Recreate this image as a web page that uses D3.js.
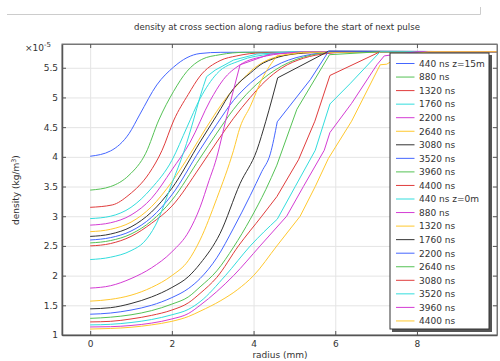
<!DOCTYPE html>
<html>
<head>
<meta charset="utf-8">
<script src="https://cdn.jsdelivr.net/npm/d3@7"></script>
<style>
  body { margin: 0; background: #fff; }
  text { font-family: "DejaVu Sans", sans-serif; fill: #333; }
</style>
</head>
<body>
<svg id="chart"></svg>
<script>
// radius (mm), density (x1e-5 kg/m^3)
const labels = ["440 ns z=15m", "880 ns", "1320 ns", "1760 ns", "2200 ns", "2640 ns", "3080 ns",
  "3520 ns", "3960 ns", "4400 ns", "440 ns z=0m", "880 ns", "1320 ns", "1760 ns", "2200 ns",
  "2640 ns", "3080 ns", "3520 ns", "3960 ns", "4400 ns"];

const xTicks = [0, 2, 4, 6, 8];
const yTicks = [1, 1.5, 2, 2.5, 3, 3.5, 4, 4.5, 5, 5.5];

// z = 15 m
const c01 = [[0,4.01],[0.5,4.1],[0.95,4.39],[1.22,4.72],[1.63,5.21],[2.04,5.51],[2.37,5.67],[2.69,5.74],[3.2,5.76],[9.96,5.77]];
const c02 = [[0,3.44],[0.5,3.5],[0.95,3.69],[1.36,4.06],[1.68,4.62],[2.04,5.1],[2.37,5.44],[2.73,5.64],[3.18,5.72],[3.8,5.76],[9.96,5.77]];
const c03 = [[0,3.15],[0.54,3.19],[0.95,3.36],[1.44,3.72],[1.76,4.11],[2.05,4.62],[2.4,5.05],[2.69,5.36],[3.18,5.62],[3.59,5.7],[4.2,5.75],[9.96,5.77]];
const c04 = [[0,2.96],[0.5,3.0],[1.0,3.15],[1.5,3.47],[2.0,3.94],[2.37,4.5],[2.69,4.98],[3.1,5.4],[3.67,5.62],[4.41,5.73],[5.0,5.76],[9.96,5.77]];
const c05 = [[0,2.85],[0.5,2.89],[1.0,3.02],[1.5,3.3],[2.0,3.78],[2.45,4.25],[2.94,4.95],[3.26,5.3],[3.67,5.55],[4.32,5.7],[5.0,5.75],[9.96,5.77]];
const c06 = [[0,2.74],[0.5,2.78],[1.0,2.9],[1.5,3.16],[2.0,3.58],[2.45,4.05],[2.85,4.5],[3.34,5.0],[3.67,5.26],[3.99,5.48],[4.41,5.65],[5.0,5.73],[5.6,5.76],[9.96,5.77]];
const c07 = [[0,2.66],[0.5,2.7],[1.0,2.82],[1.5,3.07],[2.0,3.47],[2.69,4.25],[3.1,4.7],[3.51,5.15],[3.92,5.41],[4.24,5.58],[5.22,5.75],[6,5.77],[9.96,5.77]];
const c08 = [[0,2.6],[0.5,2.64],[1.0,2.75],[1.5,2.98],[2.0,3.36],[2.69,4.12],[3.1,4.55],[3.51,4.95],[3.92,5.24],[4.5,5.52],[5.22,5.7],[6,5.76],[9.96,5.77]];
const c09 = [[0,2.55],[0.5,2.59],[1.0,2.7],[1.5,2.92],[2.0,3.27],[2.69,3.98],[3.1,4.4],[3.51,4.8],[3.92,5.12],[4.5,5.45],[5.22,5.68],[6,5.76],[9.96,5.77]];
const c10 = [[0,2.5],[0.5,2.54],[1.0,2.66],[1.5,2.88],[2.0,3.17],[2.69,3.83],[3.1,4.25],[3.51,4.65],[3.92,5.0],[4.28,5.27],[4.7,5.5],[5.22,5.66],[5.8,5.74],[6.5,5.77],[9.96,5.77]];
// z = 0 m
const c11 = [[0,2.27],[0.5,2.31],[1.0,2.42],[1.31,2.56],[1.6,2.85],[2.0,3.55],[2.3,4.1],[2.53,4.62],[2.69,5.01],[2.85,5.35],[3.06,5.46],[3.51,5.63],[4.08,5.73],[5,5.77],[9.96,5.77]];
const c12 = [[0,1.79],[0.5,1.83],[1.0,1.95],[1.5,2.13],[2.0,2.4],[2.42,2.75],[2.69,3.15],[2.91,3.6],[3.06,3.9],[3.35,4.7],[3.67,5.55],[4.41,5.73],[5.2,5.77],[9.96,5.77]];
const c13 = [[0,1.57],[0.5,1.6],[1.0,1.67],[1.5,1.8],[2.0,2.0],[2.4,2.25],[2.69,2.6],[3.1,3.3],[3.51,4.11],[3.67,4.5],[3.92,4.85],[4.2,5.3],[4.57,5.7],[5.2,5.76],[9.96,5.77]];
const c14 = [[0,1.44],[0.5,1.46],[1.0,1.53],[1.5,1.64],[2.0,1.8],[2.4,1.98],[2.69,2.2],[3.18,2.71],[3.67,3.55],[4.08,4.11],[4.3,4.6],[4.59,5.33],[5.84,5.78],[9.96,5.77]];
const c15 = [[0,1.35],[0.5,1.37],[1.0,1.42],[1.5,1.5],[2.0,1.63],[2.4,1.78],[2.69,1.95],[3.1,2.3],[3.51,2.8],[3.92,3.35],[4.2,3.75],[4.41,4.05],[4.58,4.59],[5.39,5.3],[5.84,5.78],[9.96,5.77]];
const c16 = [[0,1.28],[0.5,1.3],[1.0,1.34],[1.5,1.41],[2.0,1.52],[2.4,1.64],[2.69,1.81],[3.1,2.08],[3.51,2.48],[3.92,2.95],[4.3,3.45],[4.57,3.86],[5.06,4.8],[5.86,5.72],[7.1,5.77],[9.96,5.77]];
const c17 = [[0,1.22],[0.5,1.23],[1.0,1.27],[1.5,1.33],[2.0,1.42],[2.4,1.54],[2.69,1.7],[3.1,1.97],[3.63,2.5],[4.2,3.0],[4.57,3.33],[5.1,3.95],[5.5,4.6],[5.87,5.37],[7.1,5.77],[9.96,5.77]];
const c18 = [[0,1.17],[0.5,1.18],[1.0,1.21],[1.5,1.26],[2.0,1.34],[2.4,1.43],[2.69,1.56],[3.31,2.0],[3.92,2.5],[4.58,2.95],[5.02,3.5],[5.51,4.11],[5.87,4.89],[6.36,5.23],[7.1,5.77],[9.96,5.77]];
const c19 = [[0,1.135],[0.5,1.14],[1.0,1.16],[1.5,1.2],[2.0,1.27],[2.4,1.36],[2.69,1.5],[3.51,2.0],[4.16,2.5],[4.81,3.0],[5.22,3.5],[5.73,4.11],[5.87,4.41],[6.4,4.9],[7.02,5.55],[7.2,5.7],[8,5.77],[9.96,5.77]];
const c20 = [[0,1.1],[0.5,1.11],[1.0,1.13],[1.5,1.17],[2.0,1.23],[2.4,1.31],[2.69,1.4],[3.2,1.58],[3.6,1.76],[4.0,2.0],[4.57,2.5],[5.14,3.0],[5.51,3.5],[5.83,3.97],[6.4,4.6],[7.1,5.55],[7.26,5.56],[7.6,5.7],[8.3,5.77],[9.96,5.77]];

const curves = [c01, c02, c03, c04, c05, c06, c07, c08, c09, c10,
  c11, c12, c13, c14, c15, c16, c17, c18, c19, c20];
// radius of the first sharp mesh corner; beyond it the z=0 curves are straight segments
const corners = [99, 99, 99, 99, 99, 99, 99, 99, 99, 99,
  2.85, 3.67, 4.57, 4.59, 4.58, 4.57, 4.57, 4.58, 4.81, 5.14];
const palette = ["#4466ff", "#55c255", "#e03c3c", "#33dddd", "#d43cd4", "#ffc82e", "#333333"];

const W = 500, H = 361;
const margin = {top: 44, right: 3, bottom: 26, left: 62},
  width = W - margin.left - margin.right,
  height = H - margin.top - margin.bottom;

const svg = d3.select("#chart").attr("width", W).attr("height", H);

// toolbar rule at the top
svg.append("path").attr("d", "M7,14.5H480.5V7").attr("fill", "none").attr("stroke", "#ccc");

svg.append("text").attr("x", 277).attr("y", 30).attr("text-anchor", "middle")
  .style("font-size", "8.6px").text("density at cross section along radius before the start of next pulse");

const x = d3.scaleLinear().domain([-0.69, 9.96]).range([0, width]);
const y = d3.scaleLinear().domain([1, 5.9]).range([height, 0]);

const g = svg.append("g").attr("transform", "translate(" + margin.left + "," + margin.top + ")");

g.append("defs").append("clipPath").attr("id", "clip")
  .append("rect").attr("width", width).attr("height", height);

// grid
g.append("g").attr("class", "grid")
  .attr("transform", "translate(0," + height + ")")
  .call(d3.axisBottom(x).tickValues(xTicks).tickSize(-height).tickFormat(""));
g.append("g").attr("class", "grid")
  .call(d3.axisLeft(y).tickValues(yTicks).tickSize(-width).tickFormat(""));
g.selectAll(".grid line").attr("stroke", "#e4e4e4");
g.selectAll(".grid .domain").remove();

const smooth = d3.line()
  .curve(d3.curveMonotoneX)
  .x(function (d) { return x(d[0]); })
  .y(function (d) { return y(d[1]); });
const straight = d3.line()
  .x(function (d) { return x(d[0]); })
  .y(function (d) { return y(d[1]); });

g.append("g").attr("clip-path", "url(#clip)")
  .selectAll("path").data(curves).enter().append("path")
  .attr("fill", "none")
  .attr("stroke", function (d, i) { return palette[i % 7]; })
  .attr("stroke-width", 1)
  .attr("d", function (d, i) {
    const k = corners[i];
    const a = d.filter(function (p) { return p[0] <= k; });
    const b = d.filter(function (p) { return p[0] >= k; });
    return smooth(a) + (b.length > 1 ? straight(b) : "");
  });

// frame and inward ticks
g.append("rect").attr("width", width).attr("height", height)
  .attr("fill", "none").attr("stroke", "#777");

const axB = g.append("g").attr("transform", "translate(0," + height + ")")
  .call(d3.axisBottom(x).tickValues(xTicks).tickSizeInner(-4).tickSizeOuter(0).tickPadding(6));
const axT = g.append("g")
  .call(d3.axisTop(x).tickValues(xTicks).tickSizeInner(-4).tickSizeOuter(0).tickFormat(""));
const axL = g.append("g")
  .call(d3.axisLeft(y).tickValues(yTicks).tickSizeInner(-4).tickSizeOuter(0).tickPadding(4)
    .tickFormat(function (d) { return d; }));
const axR = g.append("g").attr("transform", "translate(" + width + ",0)")
  .call(d3.axisRight(y).tickValues(yTicks).tickSizeInner(-4).tickSizeOuter(0).tickFormat(""));

[axB, axT, axL, axR].forEach(function (a) {
  a.selectAll("line").attr("stroke", "#555");
  a.selectAll("text").style("font-size", "9px").attr("fill", "#333");
});
axL.select(".domain").attr("stroke", "#555").attr("stroke-width", 1.5);
axB.select(".domain").attr("stroke", "#555").attr("stroke-width", 1.5);
axT.select(".domain").attr("stroke", "#777");
axR.select(".domain").attr("stroke", "#777");

// exponent
const ex = svg.append("text").attr("x", 25).attr("y", 51).style("font-size", "9px");
ex.append("tspan").text("\u00d710");
ex.append("tspan").attr("dy", -4).style("font-size", "7px").text("-5");

// axis labels
svg.append("text").attr("x", 280).attr("y", 358).attr("text-anchor", "middle")
  .style("font-size", "9px").text("radius (mm)");
const yl = svg.append("text").attr("transform", "translate(19,190) rotate(-90)")
  .attr("text-anchor", "middle").style("font-size", "9px");
yl.append("tspan").text("density (kg/m");
yl.append("tspan").attr("dy", -3).style("font-size", "6.5px").text("3");
yl.append("tspan").attr("dy", 3).text(")");

// legend
const lg = svg.append("g").attr("transform", "translate(390,53)");
lg.append("rect").attr("x", 2).attr("y", 2).attr("width", 100).attr("height", 277).attr("fill", "#555");
lg.append("rect").attr("width", 99).attr("height", 276).attr("fill", "#fff").attr("stroke", "#333");
const item = lg.selectAll(".item").data(labels).enter().append("g")
  .attr("transform", function (d, i) { return "translate(0," + (10.5 + i * 13.55) + ")"; });
item.append("line").attr("x1", 6).attr("x2", 24.5)
  .attr("stroke", function (d, i) { return palette[i % 7]; });
item.append("text").attr("x", 29).attr("y", 3.3).style("font-size", "9px").text(function (d) { return d; });
</script>
</body>
</html>
